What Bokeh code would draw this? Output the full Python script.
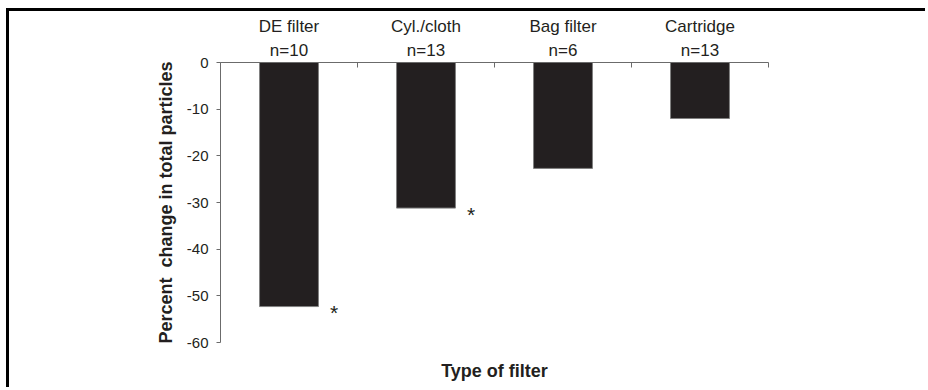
from bokeh.plotting import figure
from bokeh.models import Range1d, LinearAxis, FixedTicker, ColumnDataSource
from bokeh.core.properties import value
from bokeh.embed import file_html
from bokeh.resources import INLINE

# ---- data ----
filters = ["DE filter", "Cyl./cloth", "Bag filter", "Cartridge"]
counts = ["n=10", "n=13", "n=6", "n=13"]
pct_change = [-52.3, -31.2, -22.7, -12.0]
significant = ["*", "*", "", ""]
y_ticks = [0, -10, -20, -30, -40, -50, -60]
y_tick_labels = ["0", "-10", "-20", "-30", "-40", "-50", "-60"]

FONT = "Liberation Sans"
INK = "#231F20"
AXC = "#6b6b6b"

xpos = [i + 0.5 for i in range(len(filters))]
src = ColumnDataSource(dict(x=xpos, top=[0] * len(filters), bottom=pct_change,
                            sig=significant))

p = figure(width=919, height=379, x_range=Range1d(0, len(filters)),
           y_range=Range1d(-60, 0), output_backend="svg", toolbar_location=None,
           x_axis_location=None, y_axis_location=None,
           min_border_left=211, min_border_right=160, min_border_top=51,
           min_border_bottom=48)
p.styles = {"margin-left": "6px", "margin-top": "8px",
            "border-top": "3px solid #000", "border-left": "3px solid #000"}
p.outline_line_color = None
p.grid.visible = False
p.background_fill_color = "white"
p.border_fill_color = "white"

p.vbar(x="x", top="top", bottom="bottom", width=0.43, source=src,
       fill_color=INK, line_color="#808080", line_width=1)

# significance stars
p.text(x="x", y="bottom", text="sig", source=src, x_offset=45, y_offset=6,
       text_font=value(FONT), text_font_size="21px", text_color=INK,
       text_align="center", text_baseline="middle")

# left axis
yax = LinearAxis(ticker=FixedTicker(ticks=y_ticks),
                 axis_label="Percent\u00a0 change in total particles")
yax.major_label_overrides = {t: s for t, s in zip(y_ticks, y_tick_labels)}
yax.major_tick_out = 4
yax.major_tick_in = 0
yax.minor_tick_out = 0
yax.minor_tick_in = 0
yax.axis_line_color = AXC
yax.major_tick_line_color = AXC
yax.major_label_text_font = FONT
yax.major_label_text_font_size = "15px"
yax.major_label_text_color = INK
yax.major_label_standoff = 8
yax.axis_label_text_font = FONT
yax.axis_label_text_font_style = "bold"
yax.axis_label_text_font_size = "18px"
yax.axis_label_text_color = INK
yax.axis_label_standoff = 8
p.add_layout(yax, "left")

# top axis at y=0: boundary ticks pointing down, sample sizes as labels
tax = LinearAxis(ticker=FixedTicker(ticks=xpos,
                                    minor_ticks=list(range(len(filters) + 1))))
tax.major_label_overrides = {x: s for x, s in zip(xpos, counts)}
tax.major_tick_in = 0
tax.major_tick_out = 0
tax.minor_tick_in = 5
tax.minor_tick_out = 0
tax.axis_line_color = AXC
tax.minor_tick_line_color = AXC
tax.major_label_text_font = FONT
tax.major_label_text_font_size = "17px"
tax.major_label_text_color = INK
tax.major_label_standoff = 3
p.add_layout(tax, "above")

# filter names, stacked above the sample sizes
nax = LinearAxis(ticker=FixedTicker(ticks=xpos))
nax.major_label_overrides = {x: s for x, s in zip(xpos, filters)}
nax.axis_line_color = None
nax.major_tick_line_color = None
nax.minor_tick_line_color = None
nax.major_tick_in = 0
nax.major_tick_out = 0
nax.major_label_text_font = FONT
nax.major_label_text_font_size = "17px"
nax.major_label_text_color = INK
nax.major_label_standoff = 2
p.add_layout(nax, "above")

# bottom axis title only
bax = LinearAxis(ticker=FixedTicker(ticks=[]), axis_label="Type of filter")
bax.axis_line_color = None
bax.major_tick_line_color = None
bax.minor_tick_line_color = None
bax.major_label_text_font_size = "0px"
bax.axis_label_text_font = FONT
bax.axis_label_text_font_style = "bold"
bax.axis_label_text_font_size = "18px"
bax.axis_label_text_color = INK
bax.axis_label_standoff = 18
p.add_layout(bax, "below")

open("out.html", "w").write(file_html(p, INLINE))
